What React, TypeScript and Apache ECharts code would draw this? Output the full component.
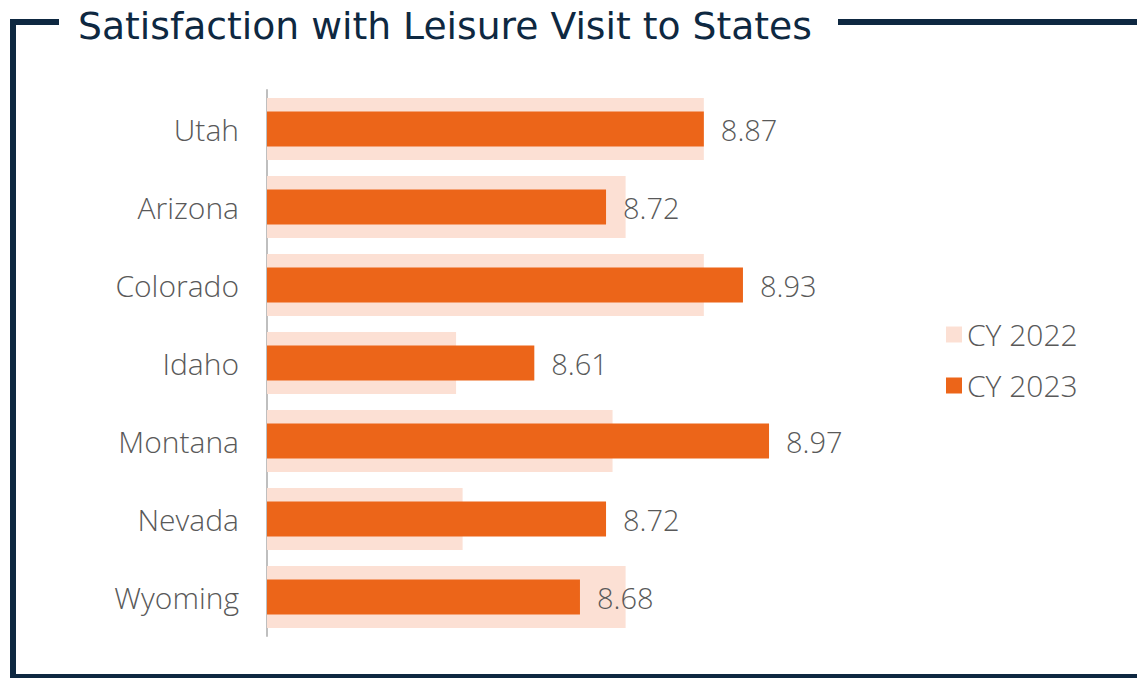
import React, { useEffect, useRef } from "react";
import * as echarts from "echarts";

// Satisfaction scores by state, two survey years
const states = ["Utah", "Arizona", "Colorado", "Idaho", "Montana", "Nevada", "Wyoming"];
const cy2022 = [8.87, 8.75, 8.87, 8.49, 8.73, 8.5, 8.75];
const cy2023 = [8.87, 8.72, 8.93, 8.61, 8.97, 8.72, 8.68];
const seriesNames = ["CY 2022", "CY 2023"];
const titleText = "Satisfaction with Leisure Visit to States";

const ORANGE = "#EC6519";
const PEACH = "#FCE0D4";
const NAVY = "#0E2841";
const GREY_TEXT = "#595959";
const FONT = "'Open Sans', 'Noto Sans', sans-serif";
const TITLE_FONT = "'DejaVu Sans', 'Open Sans', sans-serif";

export default function App() {
  const ref = useRef<HTMLDivElement>(null);

  useEffect(() => {
    if (!ref.current) return;
    const chart = echarts.init(ref.current, undefined, { renderer: "svg" });

    const categoryAxis = (show: boolean) => ({
      type: "category" as const,
      data: states,
      inverse: true,
      show,
      axisLine: { show, lineStyle: { color: "#BFBFBF", width: 2 } },
      axisTick: { show: false },
      axisLabel: {
        show,
        margin: 28,
        fontFamily: FONT,
        fontWeight: 300,
        fontSize: 30,
        color: GREY_TEXT,
      },
    });

    chart.setOption({
      animation: false,
      backgroundColor: "#ffffff",
      grid: { left: 267, top: 90, width: 521.6, height: 546, containLabel: false },
      xAxis: {
        type: "value",
        min: 8.2,
        max: 9.0,
        show: false,
      },
      yAxis: [categoryAxis(true), categoryAxis(false)],
      legend: {
        data: seriesNames,
        orient: "vertical",
        left: 941,
        top: 314,
        icon: "rect",
        itemWidth: 16,
        itemHeight: 16,
        itemGap: 20,
        textStyle: {
          fontFamily: FONT,
          fontWeight: 300,
          fontSize: 30,
          color: GREY_TEXT,
          lineHeight: 31,
        },
      },
      series: [
        {
          name: seriesNames[0],
          type: "bar",
          yAxisIndex: 1,
          data: cy2022,
          barWidth: 62,
          itemStyle: { color: PEACH },
          z: 1,
        },
        {
          name: seriesNames[1],
          type: "bar",
          yAxisIndex: 0,
          data: cy2023,
          barWidth: 35,
          itemStyle: { color: ORANGE },
          z: 2,
          label: {
            show: true,
            position: "right",
            distance: 17,
            fontFamily: FONT,
            fontWeight: 300,
            fontSize: 29,
            color: GREY_TEXT,
            formatter: (p: any) => Number(p.value).toFixed(2),
          },
        },
      ],
      graphic: [
        // frame around the chart, broken at the top for the heading
        { type: "rect", shape: { x: 10, y: 19, width: 6, height: 659 }, style: { fill: NAVY } },
        { type: "rect", shape: { x: 10, y: 19, width: 49, height: 6 }, style: { fill: NAVY } },
        { type: "rect", shape: { x: 838, y: 19, width: 299, height: 6 }, style: { fill: NAVY } },
        { type: "rect", shape: { x: 10, y: 674, width: 1127, height: 4 }, style: { fill: NAVY } },
        {
          type: "text",
          x: 78,
          y: 26,
          style: {
            text: titleText,
            fill: NAVY,
            font: `normal 37.7px ${TITLE_FONT}`,
            verticalAlign: "middle",
          },
        },
      ],
    });

    return () => chart.dispose();
  }, []);

  return (
    <div
      ref={ref}
      style={{ position: "fixed", left: 0, top: 0, width: 1137, height: 678 }}
    />
  );
}
